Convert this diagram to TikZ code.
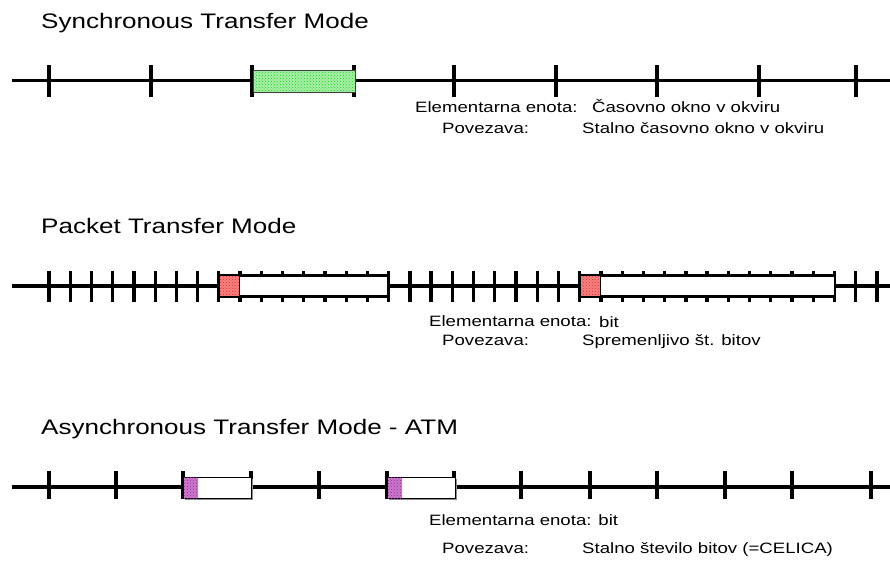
\documentclass[tikz,border=0pt]{standalone}
\usepackage{fontspec}
\setmainfont{Liberation Sans}[FakeStretch=1.24]
\usetikzlibrary{patterns}

\definecolor{slotgreen}{RGB}{170,240,170}
\definecolor{dotgreen}{RGB}{20,210,20}
\definecolor{hdrred}{RGB}{245,130,130}
\definecolor{dotred}{RGB}{235,40,40}
\definecolor{hdrviolet}{RGB}{205,120,205}
\definecolor{dotviolet}{RGB}{150,40,150}

\begin{document}
\begin{tikzpicture}[x=1pt,y=-1pt,
  axis/.style={line width=3.3pt},
  tickmark/.style={line width=3.3pt},
  title/.style={anchor=base west,inner sep=0pt,font=\fontsize{21}{25}\selectfont},
  lbl/.style={anchor=base west,inner sep=0pt,font=\fontsize{15}{18}\selectfont},
  slot/.style={draw=black!75,line width=0.9pt,preaction={fill=slotgreen},
    pattern=crosshatch dots,pattern color=dotgreen},
  packetbox/.style={draw=black,line width=2.4pt,fill=white},
  header/.style={draw=black,line width=1pt,preaction={fill=hdrred},
    pattern=crosshatch dots,pattern color=dotred},
  cellbox/.style={draw=black,line width=0.9pt,fill=white},
  cellshadow/.style={fill=black!45},
  cellhdr/.style={preaction={fill=hdrviolet},
    pattern=crosshatch dots,pattern color=dotviolet}]
\useasboundingbox (0,0) rectangle (890,563);

% ---------- Synchronous Transfer Mode ----------
\node[title] (t1) at (41,28) {Synchronous Transfer Mode};
\draw[axis] (12,80.5) -- (890,80.5);
\foreach \x in {49,151,252,354,454,556,657,759,856}
  \draw[tickmark] (\x,65) -- (\x,97);
\draw[slot] (253,70) rectangle (355,92);
\node[lbl] (e1) at (415,112.5) {Elementarna enota:};
\node[lbl] (e1v) at (592,112.5) {Časovno okno v okviru};
\node[lbl] (p1) at (442,133) {Povezava:};
\node[lbl] (p1v) at (582,133) {Stalno časovno okno v okviru};

% ---------- Packet Transfer Mode ----------
\node[title] (t2) at (41,233) {Packet Transfer Mode};
\draw[axis] (12,286) -- (890,286);
\foreach \k in {0,...,39}
  \draw[tickmark] ({49+21.23*\k},271) -- ++(0,31);
\draw[packetbox] (219,275.5) rectangle (388,296.5);
\draw[header] (219,275.5) rectangle (239,296.5);
\draw[packetbox] (580,275.5) rectangle (835,296.5);
\draw[header] (580,275.5) rectangle (600,296.5);
\node[lbl] (e2) at (429,326.5) {Elementarna enota:};
\node[lbl] (e2v) at (599,327.5) {bit};
\node[lbl] (p2) at (442,345) {Povezava:};
\node[lbl] (p2v) at (582,345) {Spremenljivo št. bitov};

% ---------- Asynchronous Transfer Mode ----------
\node[title] (t3) at (41,434) {Asynchronous Transfer Mode - ATM};
\draw[axis] (12,487) -- (890,487);
\foreach \x in {49,116,183,251,319,387,454,521,590,657,725,792,871}
  \draw[tickmark] (\x,471) -- (\x,499);
\foreach \x in {183,387}{
  \fill[cellshadow] (\x+1.5,478.5) rectangle (\x+70,500);
  \draw[cellbox] (\x,477) rectangle (\x+68,498.5);
  \fill[cellhdr] (\x+0.5,477.5) rectangle (\x+15,498);
}
\node[lbl] (e3) at (429,525) {Elementarna enota: bit};
\node[lbl] (p3) at (442,553) {Povezava:};
\node[lbl] (p3v) at (582,553) {Stalno število bitov (=CELICA)};
\end{tikzpicture}
\end{document}
